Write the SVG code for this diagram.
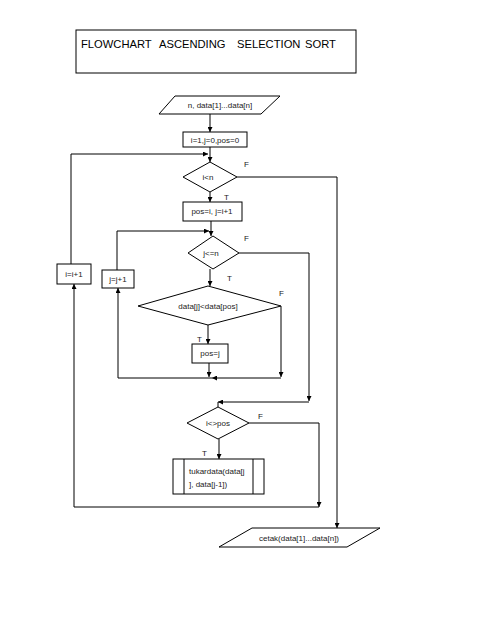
<svg xmlns="http://www.w3.org/2000/svg" width="495" height="640" viewBox="0 0 495 640">
<style>
.s{fill:#fff;stroke:#000;stroke-width:1}
.c{fill:none;stroke:#000;stroke-width:1}
.t{font-family:"Liberation Sans",Arial,sans-serif;font-size:8px;fill:#222;text-anchor:middle}
.l{font-family:"Liberation Sans",Arial,sans-serif;font-size:8px;fill:#222}
.h{font-family:"Liberation Sans",Arial,sans-serif;font-size:11.2px;fill:#000}
</style>
<defs>
<marker id="a" viewBox="0 0 10 10" refX="10" refY="5" markerWidth="5" markerHeight="5" orient="auto" markerUnits="userSpaceOnUse">
<path d="M0,0L10,5L0,10z" fill="#000"/>
</marker>
</defs>
<rect width="495" height="640" fill="#fff"/>
<g id="title">
<rect class="s" x="76" y="30" width="280" height="43"/>
<text class="h" x="81" y="48">FLOWCHART</text>
<text class="h" x="159" y="48">ASCENDING</text>
<text class="h" x="237" y="48">SELECTION</text>
<text class="h" x="305" y="48">SORT</text>
</g>
<g id="connectors">
<line class="c" x1="210" y1="114" x2="210" y2="132" marker-end="url(#a)"/>
<line class="c" x1="210" y1="147" x2="210" y2="162" marker-end="url(#a)"/>
<polyline class="c" points="71,264 71,154 208,154" marker-end="url(#a)"/>
<polyline class="c" points="237,177 337,177 337,528" marker-end="url(#a)"/>
<line class="c" x1="210" y1="192" x2="210" y2="202" marker-end="url(#a)"/>
<line class="c" x1="211" y1="221" x2="211" y2="236" marker-end="url(#a)"/>
<polyline class="c" points="117,270 117,231 209,231" marker-end="url(#a)"/>
<polyline class="c" points="239,253 309,253 309,401" marker-end="url(#a)"/>
<line class="c" x1="210" y1="269" x2="210" y2="286" marker-end="url(#a)"/>
<polyline class="c" points="281,306 281,377" marker-end="url(#a)"/>
<line class="c" x1="208" y1="325" x2="208" y2="344" marker-end="url(#a)"/>
<line class="c" x1="209" y1="363" x2="209" y2="377" marker-end="url(#a)"/>
<line class="c" x1="281" y1="378" x2="212" y2="378" marker-end="url(#a)"/>
<polyline class="c" points="212,378 118,378 118,288" marker-end="url(#a)"/>
<line class="c" x1="309" y1="402" x2="218" y2="402" marker-end="url(#a)"/>
<line class="c" x1="218" y1="402" x2="218" y2="407"/>
<polyline class="c" points="249,423 319,423 319,507" marker-end="url(#a)"/>
<line class="c" x1="219" y1="439" x2="219" y2="459" marker-end="url(#a)"/>
<polyline class="c" points="319,507 74,507 74,284" marker-end="url(#a)"/>
<text class="l" x="244" y="167">F</text>
<text class="l" x="224" y="200">T</text>
<text class="l" x="244" y="241">F</text>
<text class="l" x="227" y="281">T</text>
<text class="l" x="279" y="296">F</text>
<text class="l" x="197" y="342">T</text>
<text class="l" x="258" y="419">F</text>
<text class="l" x="202" y="456">T</text>
</g>
<g id="input">
<polygon class="s" points="175,96 280,96 261,114 159,114"/>
<text class="t" x="220" y="108">n, data[1]...data[n]</text>
</g>
<g id="init">
<rect class="s" x="183" y="132" width="64" height="15"/>
<text class="t" x="215" y="142.5">i=1,j=0,pos=0</text>
</g>
<g id="cond_i">
<polygon class="s" points="210,162 237,177 210,192 183,177"/>
<text class="t" x="208" y="180">i&lt;n</text>
</g>
<g id="set_pos">
<rect class="s" x="183" y="202" width="59" height="19"/>
<text class="t" x="212" y="214">pos=i, j=i+1</text>
</g>
<g id="cond_j">
<polygon class="s" points="213,236 239,253 213,269 188,253"/>
<text class="t" x="211" y="256">j&lt;=n</text>
</g>
<g id="cond_data">
<polygon class="s" points="208,286 281,306 208,325 138,306"/>
<text class="t" x="208" y="309">data[j]&lt;data[pos]</text>
</g>
<g id="pos_j">
<rect class="s" x="192" y="344" width="36" height="19"/>
<text class="t" x="210" y="356">pos=j</text>
</g>
<g id="inc_j">
<rect class="s" x="102" y="270" width="32" height="18"/>
<text class="t" x="118" y="282">j=j+1</text>
</g>
<g id="inc_i">
<rect class="s" x="57" y="264" width="34" height="20"/>
<text class="t" x="74" y="277">i=i+1</text>
</g>
<g id="cond_pos">
<polygon class="s" points="218,407 249,423 218,439 187,423"/>
<text class="t" x="218" y="426">i&lt;&gt;pos</text>
</g>
<g id="swap">
<rect class="s" x="173" y="459" width="91" height="35"/>
<line class="c" x1="184" y1="459" x2="184" y2="494"/>
<line class="c" x1="253" y1="459" x2="253" y2="494"/>
<text class="l" x="189" y="474">tukardata(data[j</text>
<text class="l" x="189" y="487">], data[j-1])</text>
</g>
<g id="output">
<polygon class="s" points="252,528 380,528 347,547 219,547"/>
<text class="t" x="299" y="541">cetak(data[1]...data[n])</text>
</g>
</svg>
